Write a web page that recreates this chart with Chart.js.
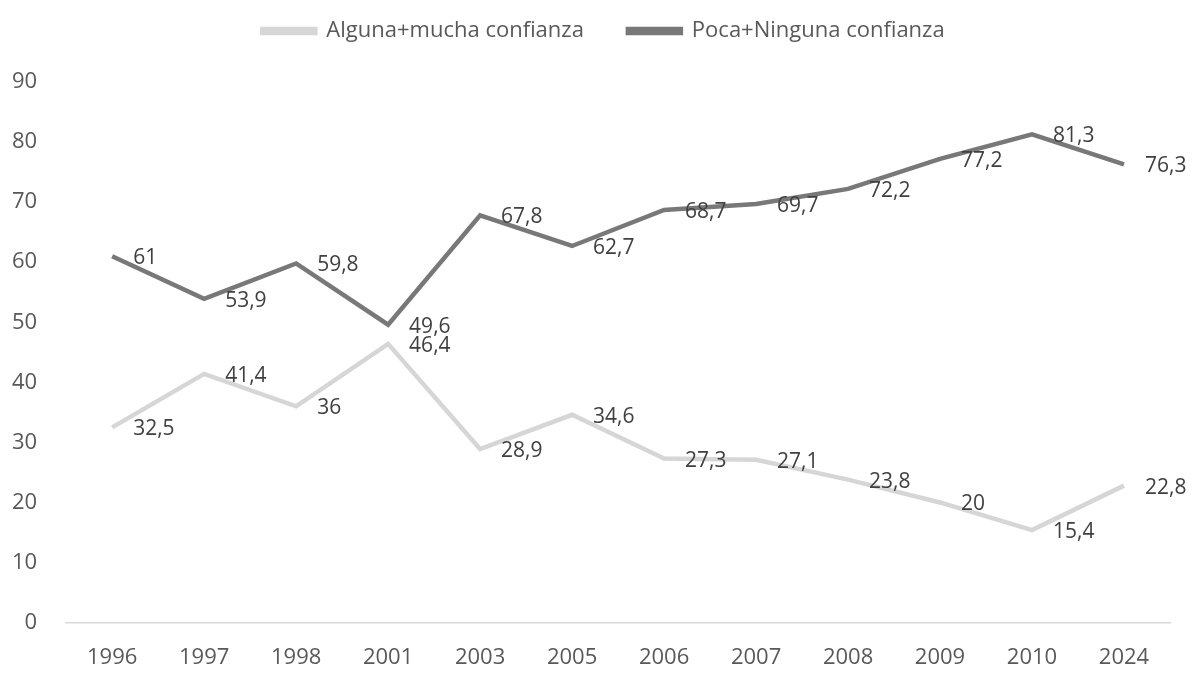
<!DOCTYPE html>
<html><head><meta charset="utf-8">
<script src="https://cdn.jsdelivr.net/npm/chart.js@4"></script>
<style>html,body{margin:0;padding:0;background:#fff}#wrap{width:1200px;height:675px}</style>
</head><body><div id="wrap"><canvas id="c"></canvas></div>
<script>
const categories = ['1996','1997','1998','2001','2003','2005','2006','2007','2008','2009','2010','2024'];
const alguna = [32.5,41.4,36,46.4,28.9,34.6,27.3,27.1,23.8,20,15.4,22.8];
const poca = [61,53.9,59.8,49.6,67.8,62.7,68.7,69.7,72.2,77.2,81.3,76.3];
const yTicks = [0,10,20,30,40,50,60,70,80,90];
const FONT = "'Open Sans', 'DejaVu Sans', sans-serif";

const labelPlugin = {
  id: 'pointLabels',
  afterDatasetsDraw(chart) {
    const ctx = chart.ctx;
    ctx.save();
    ctx.font = '21px ' + FONT;
    ctx.fillStyle = '#404040';
    ctx.textAlign = 'left';
    ctx.textBaseline = 'middle';
    chart.data.datasets.forEach((ds, i) => {
      const meta = chart.getDatasetMeta(i);
      meta.data.forEach((pt, j) => {
        ctx.fillText(String(ds.data[j]).replace('.', ','), pt.x + 21, pt.y + 2);
      });
    });
    ctx.restore();
  }
};

const legendSpace = {
  id: 'legendSpace',
  afterInit(chart) {
    const lg = chart.legend;
    if (lg) {
      const origFit = lg.fit;
      lg.fit = function() { origFit.call(this); this.height += 30; };
      const origDraw = lg.draw;
      lg.draw = function(a) {
        const ctx = this.ctx;
        ctx.save();
        ctx.translate(27, 0);
        origDraw.call(this, a);
        ctx.restore();
      };
    }
  }
};

new Chart(document.getElementById('c'), {
  type: 'line',
  data: {
    labels: categories,
    datasets: [
      {label: 'Alguna+mucha confianza', data: alguna, borderColor: '#d6d6d6', backgroundColor: '#d6d6d6', borderWidth: 4.5, pointRadius: 0, tension: 0},
      {label: 'Poca+Ninguna confianza', data: poca, borderColor: '#787878', backgroundColor: '#787878', borderWidth: 4.5, pointRadius: 0, tension: 0}
    ]
  },
  options: {
    responsive: true, maintainAspectRatio: false, animation: false,
    layout: {padding: {left: -17, right: 30, top: -24, bottom: -18}},
    plugins: {
      tooltip: {enabled: false},
      legend: {
        position: 'top',
        labels: {boxWidth: 53, boxHeight: 4, padding: 44, color: '#595959', font: {family: FONT, size: 22}}
      }
    },
    scales: {
      x: {
        offset: true,
        grid: {display: false, drawTicks: false},
        border: {display: true, color: '#d9d9d9', width: 1.5},
        ticks: {color: '#595959', font: {family: FONT, size: 22}, padding: 22}
      },
      y: {
        min: 0, max: 90,
        afterBuildTicks: (s) => { s.ticks = yTicks.map(v => ({value: v})); },
        grid: {display: false, drawTicks: false},
        border: {display: false},
        ticks: {color: '#595959', font: {family: FONT, size: 22}, padding: 29}
      }
    }
  },
  plugins: [labelPlugin, legendSpace]
});
</script></body></html>
